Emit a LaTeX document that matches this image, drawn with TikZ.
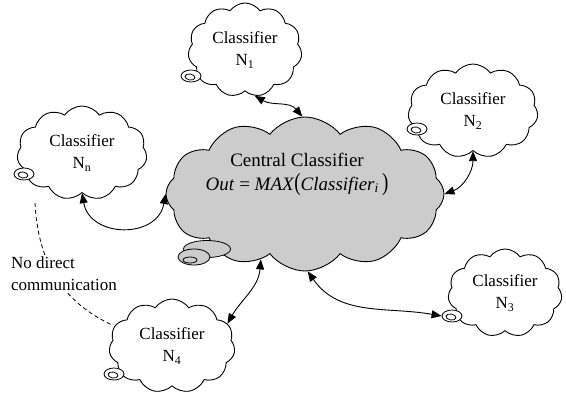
\documentclass[tikz,border=0pt]{standalone}
\usepackage{fontspec}
\setmainfont{Liberation Serif}
\usetikzlibrary{shapes.symbols,shapes.geometric,arrows.meta}
\definecolor{cloudgray}{RGB}{204,204,204}
\tikzset{
  smallcloud/.style={cloud, cloud puffs=11, cloud puff arc=110, cloud ignores aspect,
    draw, line width=0.9pt, fill=white, align=center, inner sep=0pt,
    font=\fontsize{17}{22}\selectfont},
  bigcloud/.style={cloud, cloud puffs=12, cloud puff arc=105, cloud ignores aspect,
    draw, line width=0.9pt, fill=cloudgray, inner sep=0pt},
  bubble/.style={ellipse, draw, line width=0.8pt, inner sep=0pt},
  link/.style={line width=0.9pt, {Triangle[length=10pt,width=8pt]}-{Triangle[length=10pt,width=8pt]}},
  note/.style={align=left, fill=white, inner sep=1pt, font=\fontsize{17}{22}\selectfont},
}
\newcommand{\tallparen}[1]{\scalebox{1}[1.3]{#1}}
\begin{document}
\begin{tikzpicture}[x=1pt,y=-1pt]
\useasboundingbox (0,0) rectangle (566,400);
\fill[white] (0,0) rectangle (566,400);

% central classifier
\node[bigcloud, minimum width=278pt, minimum height=154pt] (central) at (305,194) {};
\node[bubble, fill=cloudgray, minimum width=47pt, minimum height=17pt] (ctail1) at (207,249) {};
\node[bubble, fill=cloudgray, minimum width=32pt, minimum height=16pt] (ctail2) at (194,257) {};
\node[bubble, fill=cloudgray, minimum width=14pt, minimum height=6pt] (ctail3) at (190,260) {};
\node[font=\fontsize{19}{24}\selectfont, align=center] (centraltext) at (297,174)
  {Central Classifier\\
   \textit{Out} = \textit{MAX}\tallparen{(}\textit{Classifier}\textsubscript{\textit{i}}\,\tallparen{)}};

% peripheral classifiers
\node[smallcloud, minimum width=114pt, minimum height=94pt] (N1) at (245,50) {Classifier\\N\textsubscript{1}};
\node[smallcloud, minimum width=130pt, minimum height=94pt] (Nn) at (82,153) {Classifier\\N\textsubscript{n}};
\node[smallcloud, minimum width=130pt, minimum height=94pt] (N2) at (473,111) {Classifier\\N\textsubscript{2}};
\node[smallcloud, minimum width=114pt, minimum height=88pt] (N3) at (505,293) {Classifier\\N\textsubscript{3}};
\node[smallcloud, minimum width=126pt, minimum height=94pt] (N4) at (172,346) {Classifier\\N\textsubscript{4}};

% little spiral tails of the thought clouds
\foreach \n/\px/\py in {N1/191/76, Nn/24/174, N2/417/129, N3/452/316, N4/114/374}{
  \node[bubble, fill=white, minimum width=20pt, minimum height=12pt] (\n tail) at (\px,\py) {};
  \node[bubble, minimum width=10pt, minimum height=6pt, rotate=-10] (\n core) at (\px-1,\py+1) {};
}

% links to the central classifier
\draw[link] (N1.282) to[out=-30, in=130] (central.92);
\draw[link] (Nn.south) to[out=-80, in=-100, looseness=1.4] (central.west);
\draw[link] (N2.south) to[out=-90, in=20] (central.east);
\draw[link] (central.236) to[out=-95, in=60] (N4.22);
\draw[link] (central.272) to[out=-55, in=170] (N3tail.west);

% no direct link between peripheral classifiers
\coordinate (dashstart) at (35,203);
\draw[line width=0.8pt, dash pattern=on 4pt off 3pt, shorten >=4pt]
  (dashstart) .. controls (38,260) and (60,300) .. (N4.161);
\node[note] (nodirect) at (64,274) {No direct\\communication};
\end{tikzpicture}
\end{document}
